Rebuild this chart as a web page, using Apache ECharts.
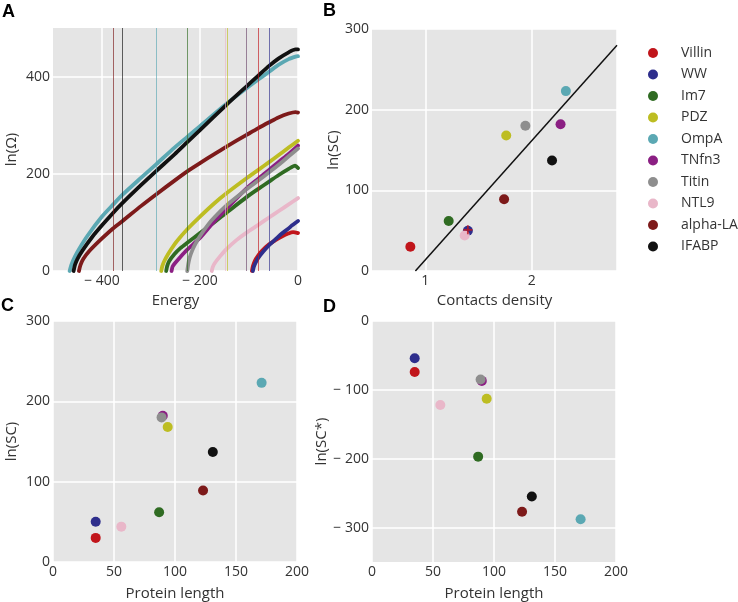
<!DOCTYPE html>
<html><head><meta charset="utf-8">
<script src="https://cdn.jsdelivr.net/npm/echarts@6.0.0/dist/echarts.min.js"></script>
<style>html,body{margin:0;padding:0;background:#fff}#c{width:738px;height:602px}</style>
</head><body><div id="c"></div>
<script>
// ---------- data ----------
const proteins = ['Villin','WW','Im7','PDZ','OmpA','TNfn3','Titin','NTL9','alpha-LA','IFABP'];
const colors   = ['#c1151b','#2e2e8c','#2f6b22','#bdbd22','#5ba8b3','#8b1f83','#8e8e8e','#e9b7c9','#7d1a1a','#111111'];

// panel A: ln(Omega) vs energy, [energy, lnOmega]
const omegaVillin = [[-94,0],[-92,10],[-88,21],[-81,32],[-74,41],[-59,55],[-45,64],[-33,71],[-20,77],[-10,80],[0,78]];
const omegaWW     = [[-92,0],[-90,9],[-86,18],[-81,27],[-70,41],[-59,53],[-45,66],[-33,77],[-20,87],[-12,94],[0,103]];
const omegaIm7    = [[-269,0],[-267,10],[-263,20],[-252,35],[-240,47],[-226,58],[-200,78],[-170,101],[-146,120],[-105,152],[-81,169],[-59,184],[-40,197],[-19,210],[-6,217],[0,212]];
const omegaPDZ    = [[-279,0],[-277,10],[-273,20],[-265,35],[-252,55],[-240,70],[-226,86],[-200,112],[-170,140],[-146,160],[-105,191],[-81,208],[-59,224],[-40,238],[-19,254],[0,268]];
const omegaOmpA   = [[-466,0],[-462,14],[-455,30],[-447,45],[-430,72],[-400,112],[-377,137],[-358,157],[-320,192],[-289,220],[-252,254],[-226,276],[-200,298],[-146,344],[-105,376],[-81,394],[-59,410],[-40,424],[-19,436],[-5,441],[0,442]];
const omegaTNfn3  = [[-258,0],[-256,9],[-252,15],[-240,29],[-226,44],[-200,68],[-183,88],[-170,103],[-146,128],[-105,170],[-81,190],[-59,208],[-40,224],[-19,241],[0,258]];
const omegaTitin  = [[-226,0],[-224,14],[-221,28],[-216,42],[-211,53],[-200,72],[-183,96],[-170,111],[-146,135],[-105,168],[-81,186],[-59,203],[-40,218],[-19,236],[0,252]];
const omegaNTL9   = [[-176,0],[-174,8],[-170,16],[-160,29],[-146,45],[-125,64],[-105,79],[-81,95],[-59,110],[-40,123],[-19,137],[0,150]];
const omegaAlphaLA= [[-447,0],[-444,12],[-438,25],[-425,42],[-400,67],[-377,88],[-358,103],[-320,134],[-289,158],[-252,186],[-226,205],[-200,222],[-170,241],[-146,256],[-105,280],[-81,294],[-59,306],[-40,316],[-19,324],[-5,327],[0,326]];
const omegaIFABP  = [[-458,0],[-455,13],[-450,25],[-440,42],[-420,70],[-400,94],[-377,120],[-358,140],[-320,177],[-289,206],[-252,240],[-226,265],[-200,290],[-146,342],[-105,380],[-81,402],[-59,422],[-40,437],[-19,450],[-5,456],[0,456]];
const omegaCurves = [omegaVillin, omegaWW, omegaIm7, omegaPDZ, omegaOmpA, omegaTNfn3, omegaTitin, omegaNTL9, omegaAlphaLA, omegaIFABP];
// vertical reference energies in panel A
const foldedEnergy = [-81, -59, -226, -144, -289, -105, -106, -148, -377, -358];

// panels B-D
const contactsDensity = [0.86, 1.40, 1.22, 1.76, 2.32, 2.27, 1.94, 1.37, 1.74, 2.19];
const lnSC            = [30, 50, 62, 168, 223, 182, 180, 44, 89, 137];
const proteinLength   = [35, 35, 87, 94, 171, 90, 89, 56, 123, 131];
const lnSCstar        = [-74, -54, -197, -113, -288, -87, -85, -122, -277, -255];
const fitLine         = [[0.907, 0], [2.8, 280]];
const crossMark       = [[1.40, 51]];

// ---------- styling ----------
const FONT = 'Open Sans';
const TXT = '#333';
const BG = '#e5e5e5';
const TR = 'rgba(0,0,0,0)';
function fmt(v){ return v < 0 ? '\u2212 ' + (-v) : String(v); }
function every(step){ return v => (Math.abs(v/step - Math.round(v/step)) < 1e-6) ? fmt(Math.round(v*1000)/1000) : ''; }

function axis(o){
  return Object.assign({
    type:'value',
    axisLine:{show:false}, axisTick:{show:false},
    splitLine:{show:true, lineStyle:{color:'#fff', width:1.5}},
    axisLabel:{color:TXT, fontSize:14, fontFamily:FONT, margin:3, showMinLabel:true, showMaxLabel:true},
    nameLocation:'middle',
    nameTextStyle:{color:TXT, fontSize:15, fontFamily:FONT}
  }, o);
}

const gridBase = {show:true, backgroundColor:BG, borderWidth:0, borderColor:TR, containLabel:false};
const grid = [
  Object.assign({left:53, top:28, width:245, height:243}, gridBase),
  Object.assign({left:372, top:29, width:245, height:242}, gridBase),
  Object.assign({left:53, top:321, width:244, height:241}, gridBase),
  Object.assign({left:372, top:321, width:244, height:241}, gridBase)
];

const xAxis = [
  axis({gridIndex:0, min:-500, max:0, interval:100, name:'Energy', nameGap:22,
        splitLine:{show:true, lineStyle:{color:[TR,'#fff'], width:1.5}},
        axisLabel:{color:TXT, fontSize:14, fontFamily:FONT, margin:3, showMinLabel:true, showMaxLabel:true, formatter:every(200)}}),
  axis({gridIndex:1, min:0.5, max:2.8, interval:0.5, name:'Contacts density', nameGap:22,
        splitLine:{show:true, lineStyle:{color:[TR,'#fff'], width:1.5}},
        axisLabel:{color:TXT, fontSize:14, fontFamily:FONT, margin:3, showMinLabel:true, showMaxLabel:true, formatter:every(1)}}),
  axis({gridIndex:2, min:0, max:200, interval:50, name:'Protein length', nameGap:24,
        axisLabel:{color:TXT, fontSize:14, fontFamily:FONT, margin:3, showMinLabel:true, showMaxLabel:true, formatter:fmt}}),
  axis({gridIndex:3, min:0, max:200, interval:50, name:'Protein length', nameGap:24,
        axisLabel:{color:TXT, fontSize:14, fontFamily:FONT, margin:3, showMinLabel:true, showMaxLabel:true, formatter:fmt}})
];
const yAxis = [
  axis({gridIndex:0, min:0, max:500, interval:100, name:'ln(\u03a9)', nameGap:34,
        splitLine:{show:true, lineStyle:{color:['#fff',TR], width:1.5}},
        axisLabel:{color:TXT, fontSize:14, fontFamily:FONT, margin:3, showMinLabel:true, showMaxLabel:true, formatter:every(200)}}),
  axis({gridIndex:1, min:0, max:300, interval:100, name:'ln(SC)', nameGap:31,
        axisLabel:{color:TXT, fontSize:14, fontFamily:FONT, margin:3, showMinLabel:true, showMaxLabel:true, formatter:fmt}}),
  axis({gridIndex:2, min:0, max:300, interval:100, name:'ln(SC)', nameGap:34,
        axisLabel:{color:TXT, fontSize:14, fontFamily:FONT, margin:3, showMinLabel:true, showMaxLabel:true, formatter:fmt}}),
  axis({gridIndex:3, min:-350, max:0, interval:50, name:'ln(SC*)', nameGap:40,
        splitLine:{show:true, lineStyle:{color:[TR,'#fff'], width:1.5}},
        axisLabel:{color:TXT, fontSize:14, fontFamily:FONT, margin:3, showMinLabel:true, showMaxLabel:true, formatter:every(100)}})
];

const series = [];
proteins.forEach((p, i) => {
  series.push({
    type:'line', name:p, xAxisIndex:0, yAxisIndex:0, data:omegaCurves[i],
    showSymbol:false, symbol:'none', smooth:0.25,
    lineStyle:{color:colors[i], width:3.8, join:'round', cap:'round'}, itemStyle:{color:colors[i]},
    emphasis:{disabled:true},
    markLine:{silent:true, symbol:'none', label:{show:false}, animation:false,
      lineStyle:{color:colors[i], width:1, type:'solid', opacity:0.65},
      emphasis:{disabled:true},
      data:[{xAxis: foldedEnergy[i]}]}
  });
});
series.push({type:'line', name:'fit', xAxisIndex:1, yAxisIndex:1, data:fitLine, showSymbol:false, symbol:'none',
  lineStyle:{color:'#111', width:1.5}, z:1, emphasis:{disabled:true}});
proteins.forEach((p, i) => {
  series.push({type:'scatter', name:p, xAxisIndex:1, yAxisIndex:1, data:[[contactsDensity[i], lnSC[i]]],
    symbolSize:10, itemStyle:{color:colors[i], opacity:1}, emphasis:{disabled:true}});
});
series.push({type:'scatter', name:'mark', xAxisIndex:1, yAxisIndex:1, data:crossMark,
  symbol:'path://M4,0H6V4H10V6H6V10H4V6H0V4H4Z', symbolSize:9, itemStyle:{color:'#c1151b'}, emphasis:{disabled:true}});
proteins.forEach((p, i) => {
  series.push({type:'scatter', name:p, xAxisIndex:2, yAxisIndex:2, data:[[proteinLength[i], lnSC[i]]],
    symbolSize:10, itemStyle:{color:colors[i], opacity:1}, emphasis:{disabled:true}});
});
proteins.forEach((p, i) => {
  series.push({type:'scatter', name:p, xAxisIndex:3, yAxisIndex:3, data:[[proteinLength[i], lnSCstar[i]]],
    symbolSize:10, itemStyle:{color:colors[i], opacity:1}, emphasis:{disabled:true}});
});

const letter = (t, x, y) => ({type:'text', left:x, top:y, style:{text:t, font:'bold 18px "Liberation Sans", Arial, sans-serif', fill:'#000'}});

const option = {
  animation:false,
  backgroundColor:'#fff',
  grid, xAxis, yAxis, series,
  legend:{
    data: proteins.map(n => ({name:n, icon:'circle'})),
    orient:'vertical', left:643, top:41,
    itemWidth:46, itemHeight:10, itemGap:7.5,
    selectedMode:false,
    textStyle:{color:TXT, fontSize:14, fontFamily:FONT, lineHeight:14}
  },
  graphic:[letter('A',2,3), letter('B',323,2), letter('C',1,297), letter('D',323,298)]
};
const chart = echarts.init(document.getElementById('c'), null, {renderer:'canvas'});
chart.setOption(option);
</script></body></html>
